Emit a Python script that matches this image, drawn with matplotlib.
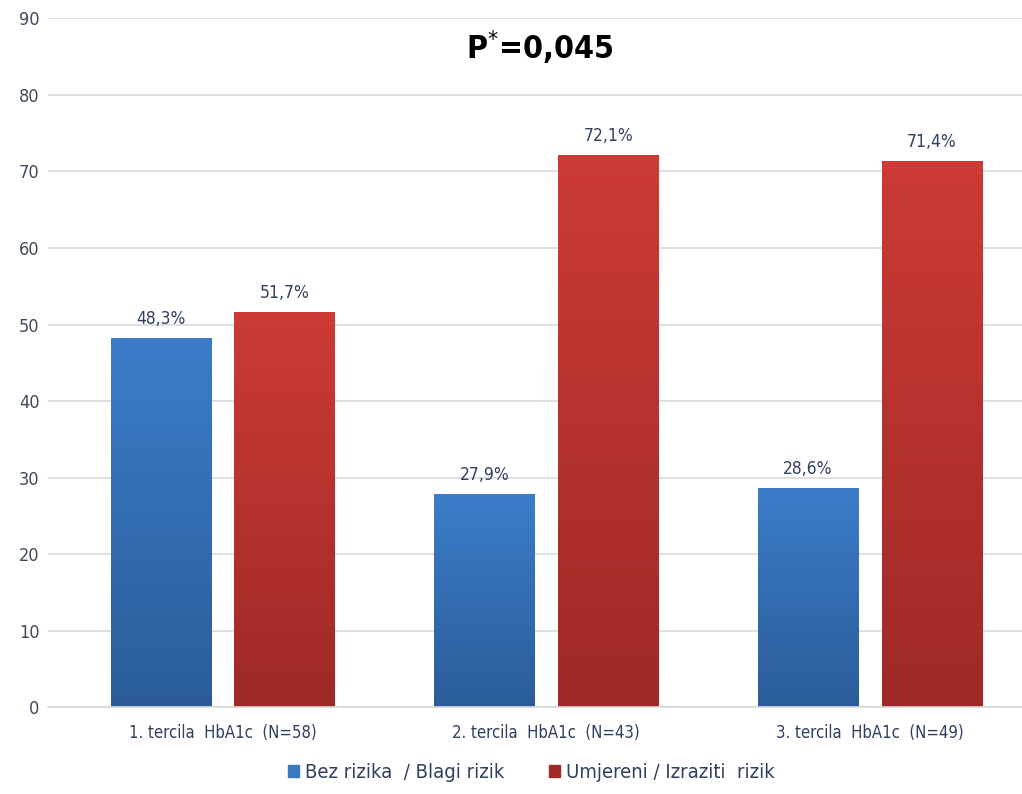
import numpy as np
import matplotlib
matplotlib.use("Agg")
from matplotlib import pyplot as plt
from matplotlib.patches import Patch

# data
categories = ["1. tercila  HbA1c  (N=58)", "2. tercila  HbA1c  (N=43)", "3. tercila  HbA1c  (N=49)"]
bez_rizika = [48.3, 27.9, 28.6]
umjereni = [51.7, 72.1, 71.4]
series_names = ["Bez rizika  / Blagi rizik", "Umjereni / Izraziti  rizik"]

plt.rcParams['font.family'] = ['DejaVu Sans']
plt.rcParams['font.stretch'] = 'condensed'

fig = plt.figure(figsize=(10.22, 7.94), dpi=100)
ax = fig.add_axes([0.047, 0.109, 0.953, 0.868])

x = np.arange(len(categories))
width = 0.31
offset = 0.191

# gradient colours (top, bottom)
blue_top, blue_bot = np.array([0.23, 0.49, 0.79]), np.array([0.17, 0.36, 0.60])
red_top, red_bot = np.array([0.80, 0.23, 0.21]), np.array([0.62, 0.16, 0.15])

def gradient_bars(xs, vals, top, bot):
    bars = ax.bar(xs, vals, width, color="none", edgecolor="none", zorder=2)
    grad = np.linspace(0, 1, 256)[:, None, None]
    img = top[None, None, :] * (1 - grad) + bot[None, None, :] * grad
    for b in bars:
        x0 = b.get_x()
        w, h = b.get_width(), b.get_height()
        im = ax.imshow(img, extent=[x0, x0 + w, 0, h], aspect="auto",
                       origin="upper", zorder=2)
        im.set_clip_path(b)
    return bars

b1 = gradient_bars(x - offset, bez_rizika, blue_top, blue_bot)
b2 = gradient_bars(x + offset, umjereni, red_top, red_bot)

for xs, vals in [(x - offset, bez_rizika), (x + offset, umjereni)]:
    for xi, v in zip(xs, vals):
        ax.text(xi, v + 1.3, f"{v:.1f}%".replace(".", ","), ha="center", va="bottom",
                fontsize=12.5, color="#2f3f5f")

ax.set_xlim(-0.54, 2.47)
ax.set_ylim(0, 90)
ax.set_yticks(np.arange(0, 91, 10))
ax.set_xticks(x)
ax.set_xticklabels(categories, fontsize=12, color="#2f3f5f")
ax.tick_params(axis="y", labelsize=13, colors="#404a5a", length=0, pad=6)
ax.tick_params(axis="x", length=0, pad=12)
ax.grid(axis="y", color="#d9d9d9", linewidth=1.2, zorder=0)
ax.set_axisbelow(True)
for s in ["top", "right", "left"]:
    ax.spines[s].set_visible(False)
ax.spines["bottom"].set_color("#d9d9d9")
ax.spines["bottom"].set_linewidth(1.2)

ax.text(0.98, 86.2, r"P$^{*}$=0,045", ha="center", va="center", fontsize=23,
        fontweight="bold", color="black")

handles = [Patch(color=blue_top * 0.85 + blue_bot * 0.15), Patch(color=red_bot)]
fig.legend(handles, series_names, loc="lower center", ncol=2, frameon=False,
           fontsize=14.5, handlelength=0.55, handleheight=0.55, handletextpad=0.3,
           columnspacing=2.2, bbox_to_anchor=(0.52, -0.008), labelcolor="#2f3f5f")

fig.savefig("out.png", dpi=100)
